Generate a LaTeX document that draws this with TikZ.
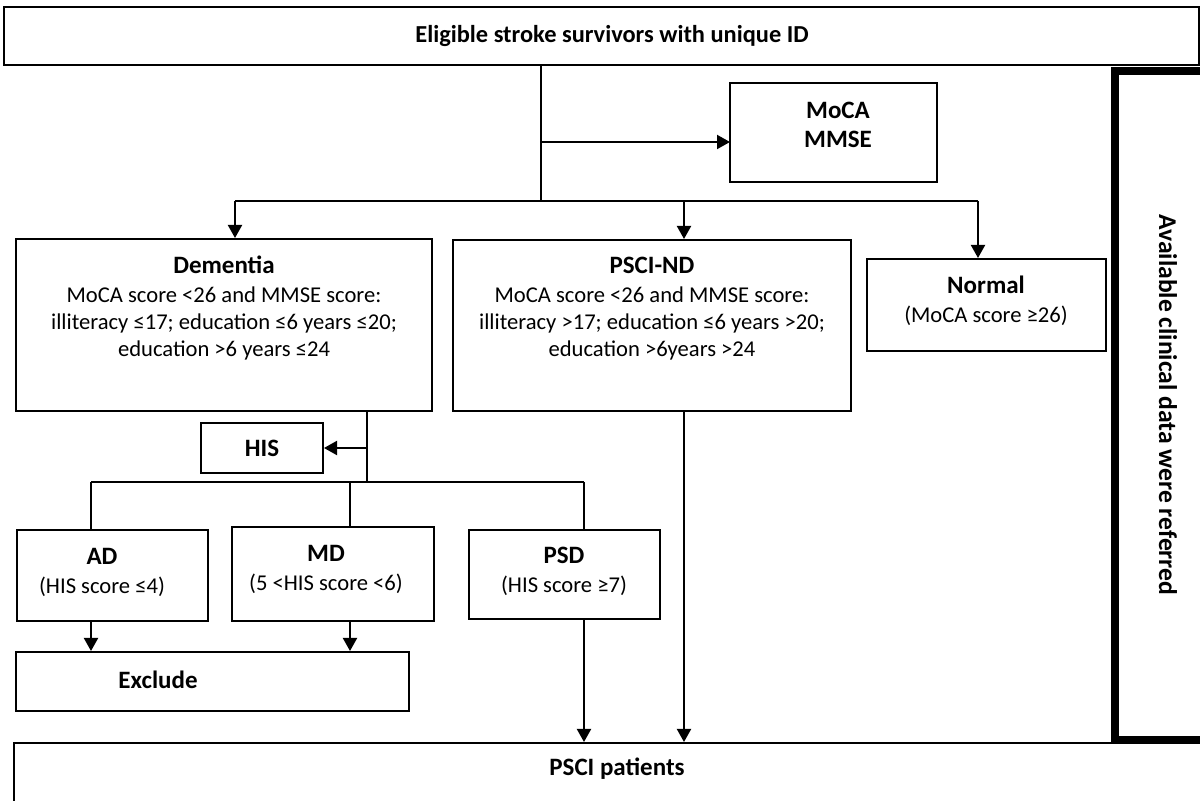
\documentclass[tikz,border=0pt]{standalone}
\usepackage{fontspec}
\setmainfont{Carlito}
\usetikzlibrary{arrows.meta}
\newcommand{\ttlfont}{\fontsize{12.5}{14.5}\selectfont\bfseries}
\begin{document}
\begin{tikzpicture}[x=0.5pt,y=-0.5pt,
  box/.style={draw, line width=1pt, rectangle, inner sep=0pt},
  thickbox/.style={draw, line width=4pt, rectangle, inner sep=0pt},
  ttl/.style={font=\ttlfont, inner sep=0pt, align=center},
  bdy/.style={font=\fontsize{11.3}{13.5}\selectfont, inner sep=0pt, align=center},
  conn/.style={line width=1pt},
  arr/.style={line width=1pt, -{Triangle[length=6.5pt,width=7pt]}},
]
\fill[white] (0,0) rectangle (1200,801);
\useasboundingbox (0,0) rectangle (1200,801);

% boxes
\node[box, minimum width=1195*0.5pt, minimum height=58*0.5pt] (top) at (601.5,36) {};
\node[ttl, font=\fontsize{12.2}{14.5}\selectfont\bfseries] (topT) at (612,36) {Eligible stroke survivors with unique ID};

\node[box, minimum width=207*0.5pt, minimum height=99*0.5pt] (moca) at (833.5,132.5) {};
\node[ttl, anchor=north] (mocaT) at (838,102) {MoCA\\MMSE};

\node[box, minimum width=416*0.5pt, minimum height=172*0.5pt] (dem) at (224,325) {};
\node[bdy, anchor=north] (demT) at (224,256) {{\ttlfont Dementia}\\[1pt]
  MoCA score <26 and MMSE score:\\ illiteracy ≤17; education ≤6 years ≤20;\\ education >6 years ≤24};

\node[box, minimum width=398*0.5pt, minimum height=171*0.5pt] (psci) at (652,325.5) {};
\node[bdy, anchor=north] (psciT) at (652,256.5) {{\ttlfont PSCI-ND}\\[1pt]
  MoCA score <26 and MMSE score:\\ illiteracy >17; education ≤6 years >20;\\ education >6years >24};

\node[box, minimum width=239*0.5pt, minimum height=92*0.5pt] (normal) at (986.5,305) {};
\node[bdy, anchor=north] (normalT) at (986,275.5) {{\ttlfont Normal}\\[1pt]
  (MoCA score ≥26)};

\node[thickbox, minimum width=95*0.5pt, minimum height=669*0.5pt] (side) at (1162.5,405.5) {};
\node[ttl, rotate=-90, font=\fontsize{12.8}{14.5}\selectfont\bfseries] (sideT) at (1168,405) {Available clinical data were referred};

\node[box, minimum width=122*0.5pt, minimum height=50*0.5pt, ttl] (his) at (262,448) {HIS};

\node[box, minimum width=191*0.5pt, minimum height=91*0.5pt] (ad) at (112.5,575.5) {};
\node[bdy, anchor=north] (adT) at (102,548) {{\ttlfont AD}\\[1pt] (HIS score ≤4)};

\node[box, minimum width=202*0.5pt, minimum height=94*0.5pt] (md) at (333,574) {};
\node[bdy, anchor=north] (mdT) at (326,545) {{\ttlfont MD}\\[1pt] (5 <HIS score <6)};

\node[box, minimum width=191*0.5pt, minimum height=89*0.5pt] (psd) at (564.5,574.5) {};
\node[bdy, anchor=north] (psdT) at (564,547) {{\ttlfont PSD}\\[1pt] (HIS score ≥7)};

\node[box, minimum width=393*0.5pt, minimum height=59*0.5pt] (excl) at (212.5,681.5) {};
\node[ttl] (exclT) at (158,680) {Exclude};

\node[box, minimum width=1191*0.5pt, minimum height=67*0.5pt] (bot) at (609.5,776.5) {};
\node[ttl] (botT) at (617,769) {PSCI patients};

% junctions
\coordinate (j1) at (541,201);
\coordinate (jl) at (235,201);
\coordinate (jm) at (684,201);
\coordinate (jr) at (978,201);
\coordinate (mArr) at (730,142);
\coordinate (k1) at (367,482);
\coordinate (kl) at (91,482);
\coordinate (km) at (350,482);
\coordinate (kr) at (584,482);

% connectors
\draw[conn] (top.south -| j1) -- (j1);
\draw[arr] (mArr -| j1) -- (mArr);
\draw[conn] (jl) -- (jr);
\draw[arr] (jl) -- (jl |- dem.north);
\draw[arr] (jm) -- (jm |- psci.north);
\draw[arr] (jr) -- (jr |- normal.north);

\draw[conn] (k1 |- dem.south) -- (k1);
\draw[arr] (k1 |- his.east) -- (his.east);
\draw[conn] (kl) -- (kr);
\draw[conn] (kl) -- (kl |- ad.north);
\draw[conn] (km) -- (km |- md.north);
\draw[conn] (kr) -- (kr |- psd.north);

\draw[arr] (kl |- ad.south) -- (kl |- excl.north);
\draw[arr] (km |- md.south) -- (km |- excl.north);
\draw[arr] (kr |- psd.south) -- (kr |- bot.north);
\draw[arr] (jm |- psci.south) -- (jm |- bot.north);
\end{tikzpicture}
\end{document}
